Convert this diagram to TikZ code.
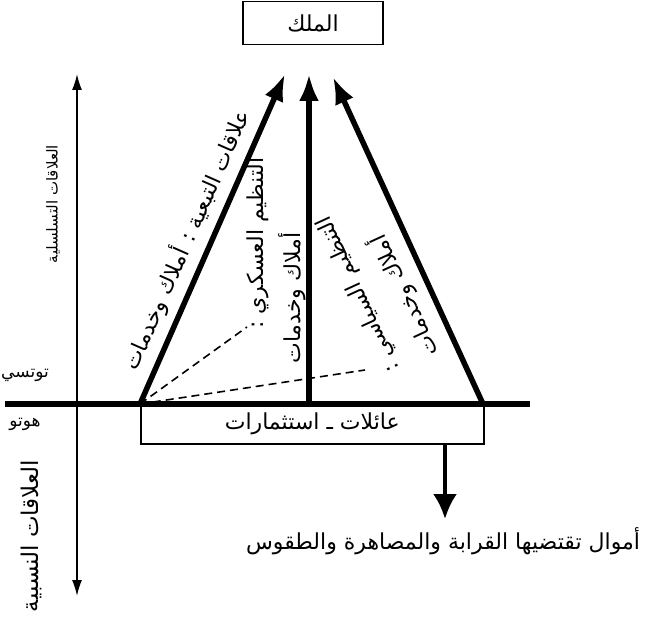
\documentclass[tikz,border=0pt]{standalone}
\usepackage{fontspec}
\usepackage{tikz}
\usetikzlibrary{arrows.meta}
\newfontfamily\arabicfont[Script=Arabic]{DejaVu Sans}
\TeXXeTstate=1
\newcommand{\artxt}[1]{{\arabicfont\beginR #1\endR}}

\begin{document}
\begin{tikzpicture}[x=1pt, y=-1pt,
			>={Latex[length=27pt,width=20pt]}, %Pfeilspitzen
			dick/.style={line width=5.5pt, ->},
			achse/.style={line width=1.6pt, {Latex[length=16pt,width=10pt]}-{Latex[length=16pt,width=10pt]}},
			kasten/.style={draw, line width=1.6pt, inner sep=0pt},
			gestrichelt/.style={line width=1.6pt, dash pattern=on 8pt off 5pt},
			font=\fontsize{22}{26}\selectfont]
			\useasboundingbox (0,0) rectangle (653,617);
			% Eckpunkte
			\coordinate (lb) at (140,404);
			\coordinate (mb) at (309,404);
			\coordinate (rb) at (483,404);
			\coordinate (lt) at (285,74);
			\coordinate (mt) at (309,74);
			\coordinate (rt) at (333,77);
			\coordinate (hl) at (5,404);
			\coordinate (hr) at (530,404);
			\coordinate (ao) at (77,74);
			\coordinate (au) at (77,596);
			\coordinate (d1) at (247,327);
			\coordinate (d2) at (365,370);
			\coordinate (pfeilende) at (445,519);
			% Kasten oben und unten
			\node[kasten, minimum width=140pt, minimum height=43pt] (koenig) at (313,23) {\artxt{الملك}};
			\node[kasten, minimum width=343pt, minimum height=39pt, anchor=north west] (familie) at (lb) {\artxt{عائلات ـ استثمارات}};
			% Achse links
			\draw[achse] (au) -- (ao);
			\draw[line width=5.5pt] (hl) -- (hr);
			% Pfeile
			\draw[dick] (lb) -- (lt);
			\draw[dick] (mb) -- (mt);
			\draw[dick] (rb) -- (rt);
			\draw[gestrichelt] (lb) -- (d1);
			\draw[gestrichelt] (lb) -- (d2);
			\draw[line width=4pt, -{Latex[length=25pt,width=24pt]}] (familie.south -| pfeilende) -- (pfeilende);
			% Beschriftung
			\node[rotate=66.2] (tabaiya) at (186,240) {\artxt{علاقات التبعية : أملاك وخدمات}};
			\node[rotate=90] (askari) at (258,243) {\artxt{التنظيم العسكري :}};
			\node[rotate=90] (amlakm) at (292,298) {\artxt{أملاك وخدمات}};
			\node[rotate=114.7] (siyasi) at (359,294) {\artxt{التنظيم السياسي :}};
			\node[rotate=114.7] (amlakr) at (404,296) {\artxt{أملاك وخدمات}};
			\node[rotate=90, font=\fontsize{15}{18}\selectfont] (hierarchie) at (53,204) {\artxt{العلاقات التسلسلية}};
			\node[rotate=90, font=\fontsize{23}{27}\selectfont] (nasab) at (31,536) {\artxt{العلاقات النسبية}};
			\node[font=\fontsize{17}{20}\selectfont] (tutsi) at (25,375) {\artxt{توتسي}};
			\node[font=\fontsize{17}{20}\selectfont] (hutu) at (25,424) {\artxt{هوتو}};
			\node (gueter) at (443,541) {\artxt{أموال تقتضيها القرابة والمصاهرة والطقوس}};
		\end{tikzpicture}
\end{document}
